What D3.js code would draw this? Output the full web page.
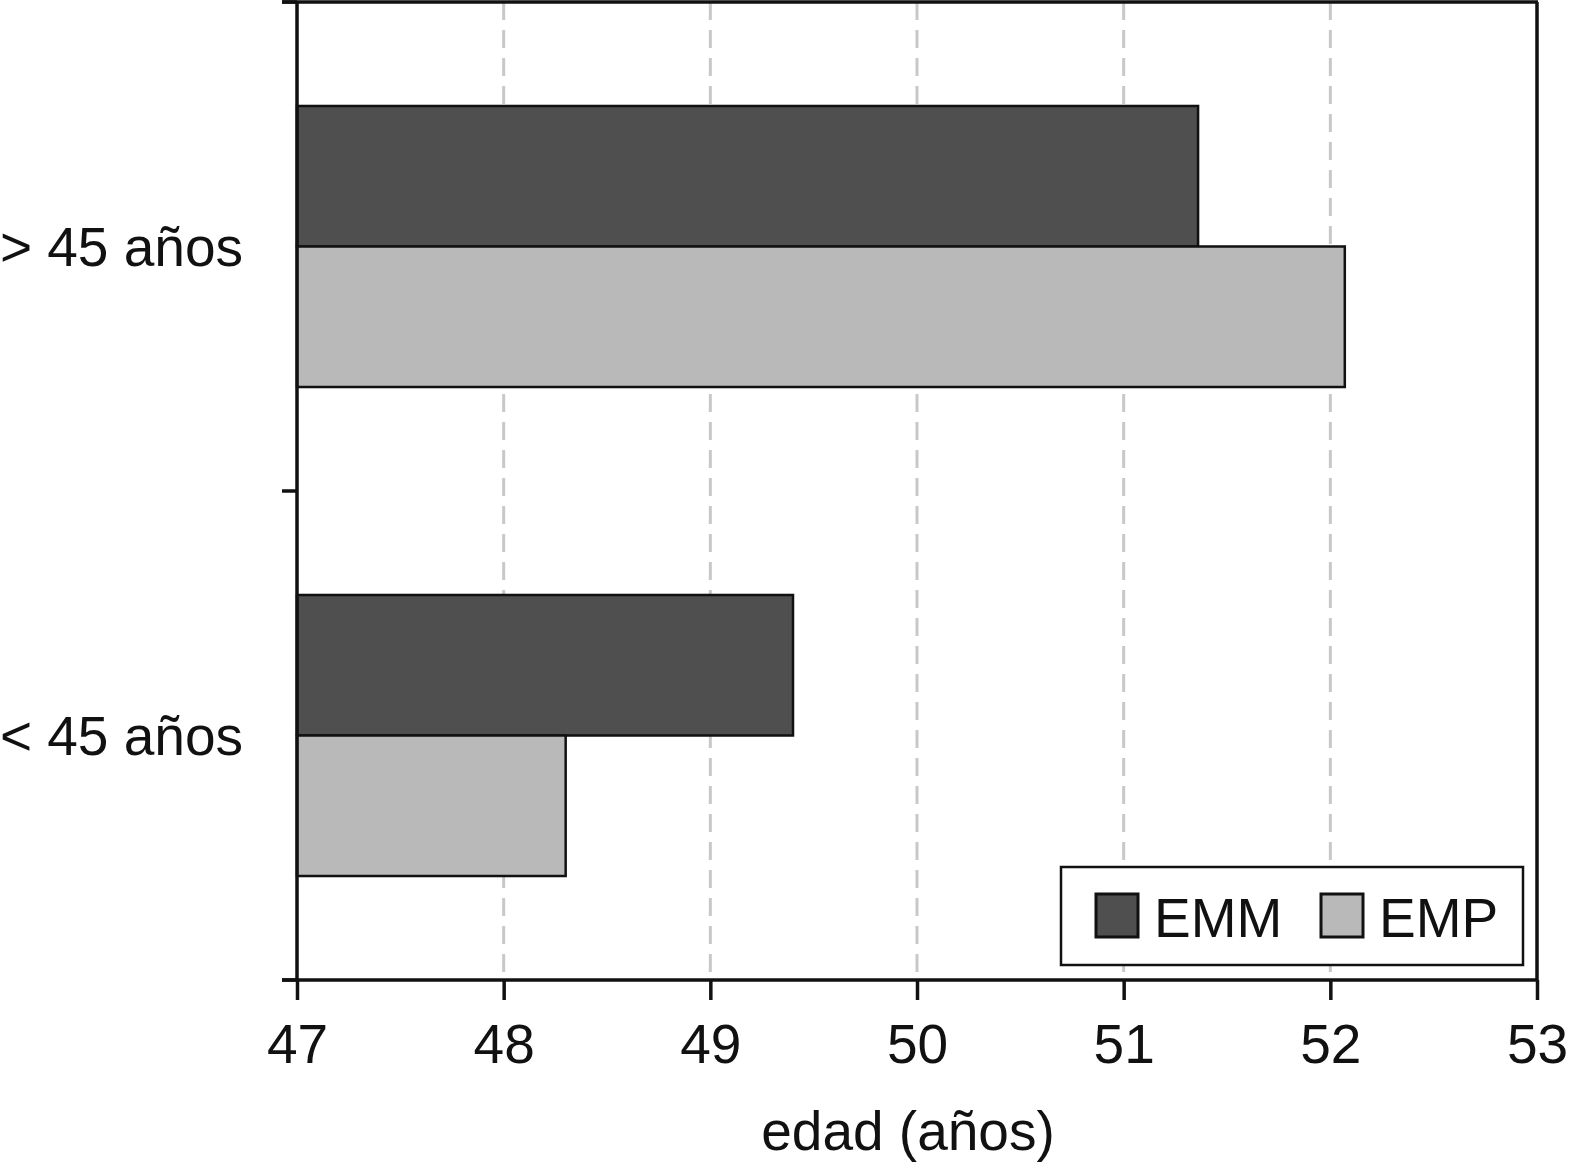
<!DOCTYPE html>
<html>
<head>
<meta charset="utf-8">
<script src="https://cdn.jsdelivr.net/npm/d3@7"></script>
<style>
  body { margin: 0; background: #fff; }
  text { font-family: "Liberation Sans", Arial, sans-serif; fill: #111; }
</style>
</head>
<body>
<svg id="chart" width="1569" height="1171"></svg>
<script>
// categories and series
var categories = ['> 45 años', '< 45 años'];
var series = ['EMM', 'EMP'];
var emm = [51.36, 49.40];
var emp = [52.07, 48.30];
var xTicks = [47, 48, 49, 50, 51, 52, 53];

var colors = { EMM: '#4f4f4f', EMP: '#b9b9b9' };

var plotLeft = 297, plotRight = 1537, plotTop = 2, plotBottom = 980;

var svg = d3.select('#chart');

var x = d3.scaleLinear().domain([47, 53]).range([plotLeft, plotRight]);
var y = d3.scaleBand().domain(categories).range([plotTop, plotBottom]).padding(0);
var yInner = d3.scaleBand().domain(series).range([0, y.bandwidth()])
    .paddingInner(0).paddingOuter(0.74);

// dashed gridlines
svg.append('g')
    .selectAll('line')
    .data(xTicks.slice(1, -1))
    .enter().append('line')
    .attr('x1', function(d) { return x(d); })
    .attr('x2', function(d) { return x(d); })
    .attr('y1', plotTop)
    .attr('y2', plotBottom)
    .attr('stroke', '#c8c8c8')
    .attr('stroke-width', 3)
    .attr('stroke-dasharray', '18,10');

// bars
var rows = [];
categories.forEach(function(c, i) {
  rows.push({cat: c, s: 'EMM', v: emm[i]});
  rows.push({cat: c, s: 'EMP', v: emp[i]});
});

svg.append('g')
    .selectAll('rect')
    .data(rows)
    .enter().append('rect')
    .attr('x', x(47))
    .attr('y', function(d) { return y(d.cat) + yInner(d.s); })
    .attr('width', function(d) { return x(d.v) - x(47); })
    .attr('height', yInner.bandwidth())
    .attr('fill', function(d) { return colors[d.s]; })
    .attr('stroke', '#111')
    .attr('stroke-width', 2.5);

// frame
svg.append('line').attr('x1', 282).attr('x2', plotRight + 1).attr('y1', plotTop).attr('y2', plotTop)
    .attr('stroke', '#111').attr('stroke-width', 3.5);
svg.append('line').attr('x1', plotRight).attr('x2', plotRight).attr('y1', plotTop).attr('y2', plotBottom)
    .attr('stroke', '#111').attr('stroke-width', 3.5);
svg.append('line').attr('x1', plotLeft).attr('x2', plotLeft).attr('y1', plotTop).attr('y2', plotBottom)
    .attr('stroke', '#111').attr('stroke-width', 3.5);

// x axis
var xAxis = d3.axisBottom(x).tickValues(xTicks).tickSize(20).tickPadding(24)
    .tickFormat(d3.format('d'));
var gx = svg.append('g').attr('transform', 'translate(0,' + plotBottom + ')').call(xAxis);
gx.select('.domain').remove();
gx.selectAll('line').attr('stroke', '#111').attr('stroke-width', 3.5);
gx.selectAll('text').attr('font-size', 55).attr('fill', '#111')
    .style('font-family', '"Liberation Sans", Arial, sans-serif');
svg.append('line').attr('x1', 282).attr('x2', plotRight + 1).attr('y1', plotBottom).attr('y2', plotBottom)
    .attr('stroke', '#111').attr('stroke-width', 3.5);

// y ticks at band edges
var yEdges = [plotTop, y(categories[1]), plotBottom];
svg.append('g').selectAll('line')
    .data(yEdges)
    .enter().append('line')
    .attr('x1', 282).attr('x2', plotLeft)
    .attr('y1', function(d) { return d; })
    .attr('y2', function(d) { return d; })
    .attr('stroke', '#111').attr('stroke-width', 3.5);

// category labels
svg.append('g').selectAll('text')
    .data(categories)
    .enter().append('text')
    .attr('x', 243)
    .attr('y', function(d) { return y(d) + y.bandwidth() / 2; })
    .attr('dy', '0.35em')
    .attr('text-anchor', 'end')
    .attr('font-size', 55)
    .text(function(d) { return d; });

// axis title
svg.append('text')
    .attr('x', 908).attr('y', 1150)
    .attr('text-anchor', 'middle')
    .attr('font-size', 55)
    .text('edad (años)');

// legend
var lg = svg.append('g');
lg.append('rect').attr('x', 1061).attr('y', 867).attr('width', 462).attr('height', 98)
    .attr('fill', '#fff').attr('stroke', '#111').attr('stroke-width', 2.5);
var legendX = [1096, 1321];
var li = lg.selectAll('g.item').data(series).enter().append('g')
    .attr('transform', function(d, i) { return 'translate(' + legendX[i] + ',894)'; });
li.append('rect').attr('width', 42).attr('height', 43)
    .attr('fill', function(d) { return colors[d]; })
    .attr('stroke', '#111').attr('stroke-width', 3);
li.append('text').attr('x', 58).attr('y', 43)
    .attr('font-size', 55)
    .text(function(d) { return d; });
</script>
</body>
</html>
